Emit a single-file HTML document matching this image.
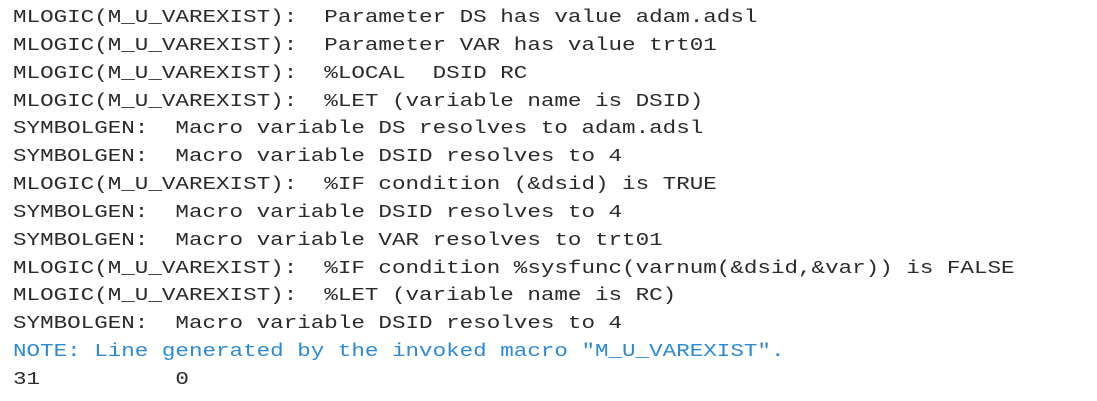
<!DOCTYPE html>
<html><head><meta charset="utf-8"><style>
html,body{margin:0;padding:0;background:#fff;width:1097px;height:401px;overflow:hidden}
pre{position:absolute;left:13px;top:5px;margin:0;font-family:"Liberation Mono","Courier New",monospace;font-size:18px;line-height:27.85px;color:#2a2a2a;transform:scaleX(1.253);transform-origin:0 0;}
.n{color:#2b8ad6}
</style></head><body>
<pre>MLOGIC(M_U_VAREXIST):  Parameter DS has value adam.adsl
MLOGIC(M_U_VAREXIST):  Parameter VAR has value trt01
MLOGIC(M_U_VAREXIST):  %LOCAL  DSID RC
MLOGIC(M_U_VAREXIST):  %LET (variable name is DSID)
SYMBOLGEN:  Macro variable DS resolves to adam.adsl
SYMBOLGEN:  Macro variable DSID resolves to 4
MLOGIC(M_U_VAREXIST):  %IF condition (&amp;dsid) is TRUE
SYMBOLGEN:  Macro variable DSID resolves to 4
SYMBOLGEN:  Macro variable VAR resolves to trt01
MLOGIC(M_U_VAREXIST):  %IF condition %sysfunc(varnum(&amp;dsid,&amp;var)) is FALSE
MLOGIC(M_U_VAREXIST):  %LET (variable name is RC)
SYMBOLGEN:  Macro variable DSID resolves to 4
<span class="n">NOTE: Line generated by the invoked macro "M_U_VAREXIST".</span>
31          0</pre>
</body></html>
